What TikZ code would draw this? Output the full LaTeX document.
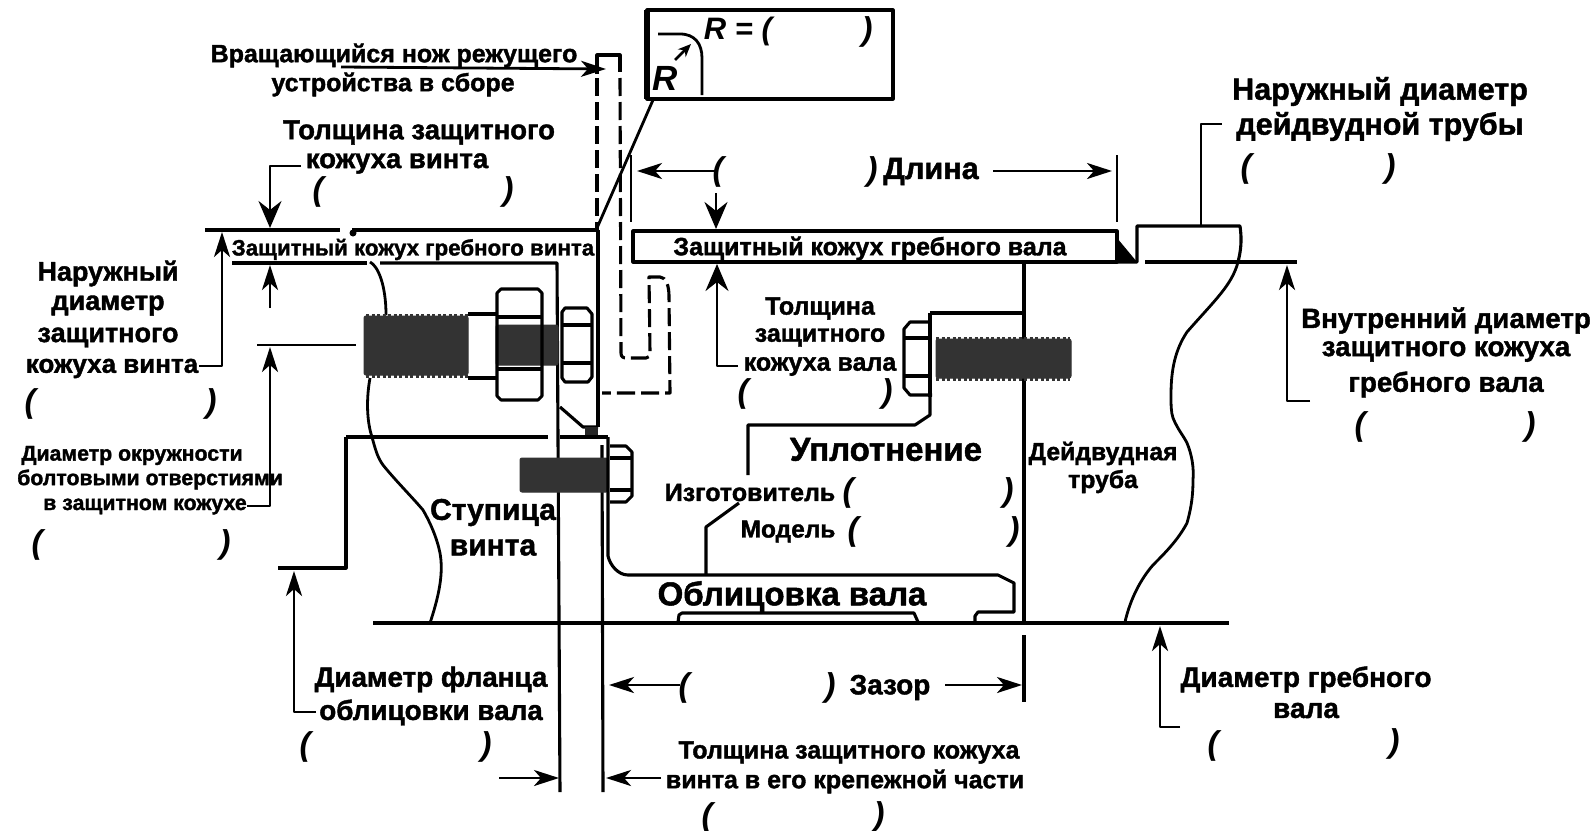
\documentclass[tikz,border=0pt]{standalone}
\usepackage{fontspec}
\setmainfont[BoldFeatures={FakeBold=1.5}]{Liberation Sans}
\usetikzlibrary{arrows.meta}
\newcommand{\fsz}[1]{\fontsize{#1bp}{#1bp}\selectfont\bfseries}
\tikzset{
  x=1bp,y=-1bp,
  every path/.style={line join=round},
  ln/.style={draw=black,line width=3.1bp},
  thin ln/.style={draw=black,line width=2.8bp},
  dsh/.style={draw=black,line width=3.1bp,dash pattern=on 18bp off 6bp},
  thread/.style={fill=black!80,draw=black!80,line width=1bp,rounded corners=2bp},
  threadedge/.style={draw=black!80,line width=3bp,dash pattern=on 3bp off 2.5bp},
  arr/.style={draw=black,line width=2.8bp,-{Stealth[length=25bp,width=16bp,inset=7bp]}},
  bigarr/.style={draw=black,line width=2.8bp,-{Stealth[length=27bp,width=23bp,inset=9bp]}},
  lab/.style={inner sep=0,yshift=-2.5bp,font=\fsz{#1}},
  par/.style={inner sep=0,yshift=-2.5bp,font=\fontsize{33bp}{33bp}\selectfont\itshape\bfseries},
}
\begin{document}
\begin{tikzpicture}
\useasboundingbox[fill=white] (0,0) rectangle (1596,830);
% --- R detail box
\draw[ln] (647,10) rectangle (893,99);
\draw[line width=5.5bp] (647,10) -- (647,99);
\draw[thin ln] (658,34) -- (680,34) .. controls (695,34) and (702,44) .. (702,58) -- (702,95);
\draw[draw=black,line width=2.6bp,-{Stealth[length=13bp,width=11bp]}] (675,60) -- (691,44);
\node[inner sep=0,yshift=-2bp,font=\fontsize{35bp}{35bp}\selectfont\itshape\bfseries] (rA) at (665,76) {R};
\node[inner sep=0,yshift=-2bp,font=\fontsize{31bp}{31bp}\selectfont\itshape\bfseries] (rB) at (738,29) {R = (};
\node[par] (rC) at (867,29) {)};
\draw[thin ln] (653,100) -- (597,228);
% --- blade (dashed)
\draw[ln] (597,74) -- (597,55) -- (620,55) -- (620,72);
\draw[dsh] (597,78) -- (597,232);
\draw[dsh] (620,78) -- (621,353) .. controls (621,357) and (623,358) .. (627,358) -- (646,358) .. controls (649,358) and (650,356) .. (650,352) -- (649,277) -- (660,277) .. controls (666,277) and (669,286) .. (669,296) -- (670,393) -- (602,393);
% --- screw cover outline
\draw[ln] (205,230) -- (340,230);
\draw[ln] (352,230) -- (597,230);
\fill (353,233) circle (3.5bp);
\draw[ln] (232,263) -- (367,263);
\draw[ln] (380,263) -- (557,263) -- (560,792);
\draw[ln] (598,230) -- (598,427);
\draw[ln] (602,445) -- (603,792);
\draw[ln] (560,407) -- (583,427) -- (598,427);
\fill[black!85] (585,427) rectangle (598,437);
\draw[ln] (346,437) -- (548,437);
\draw[ln] (560,437) -- (608,437);
\draw[ln] (278,568) -- (346,568) -- (346,437);
% --- hub curve
\draw[thin ln] (370,262) .. controls (378,266) and (386,285) .. (386,315);
\draw[thin ln] (370,378) .. controls (366,400) and (367,422) .. (372,437) .. controls (376,452) and (378,458) .. (383,465) .. controls (395,480) and (412,497) .. (423,510) .. controls (430,522) and (437,538) .. (440,553) .. controls (443,570) and (441,590) .. (430,623);
% --- large bolt
\draw[ln] (468,314) -- (498,314);
\draw[ln] (468,378) -- (498,378);
\draw[thread] (364,316) rectangle (468,375);
\draw[threadedge] (366,315) -- (468,315);
\draw[threadedge] (366,376) -- (468,376);
\draw[thread] (496,325) rectangle (558,365);
\draw[ln] (501,289) -- (538,289) -- (542,293) -- (542,396) -- (538,400) -- (501,400) -- (497,396) -- (497,293) -- cycle;
\draw[ln] (497,317) -- (542,317);
\draw[ln] (497,369) -- (542,369);
\draw[ln] (565,308) -- (587,308) -- (592,314) -- (592,377) -- (588,382) -- (565,382) -- (562,378) -- (562,312) -- cycle;
\draw[ln] (562,325) -- (592,325);
\draw[ln] (562,363) -- (592,363);
% --- lower bolt
\draw[thread] (520,458) rectangle (608,492);
\draw[ln] (610,446) -- (626,446) -- (632,452) -- (632,496) -- (626,502) -- (610,502);
\draw[ln] (610,458) -- (632,458);
\draw[ln] (610,490) -- (632,490);
% --- liner
\draw[ln] (608,437) -- (608,556) .. controls (610,565) and (618,575) .. (628,575) -- (998,575) -- (1014,583) -- (1014,612) -- (978,612) -- (975,616) -- (975,622);
\draw[ln] (678,622) -- (679,615) -- (682,613) -- (914,613) -- (918,622);
\draw[line width=3.8bp] (373,623) -- (1229,623);
% --- seal spring / leaders
\draw[ln] (706,575) -- (706,527) -- (739,503);
\draw[ln] (748,475) -- (748,425) -- (915,425) -- (930,415) -- (930,397);
% --- shaft cover
\draw[ln] (633,231) rectangle (1117,262);
\draw[ln] (1117,262) -- (1137,262) -- (1137,226) -- (1240,226) .. controls (1242,240) and (1241,250) .. (1238,262);
\fill (1117,238) -- (1137,262) -- (1117,262) -- cycle;
\draw[ln] (1145,262) -- (1297,262);
% --- stern tube curve
\draw[thin ln] (1238,262) .. controls (1232,285) and (1215,300) .. (1187,332) .. controls (1175,350) and (1171,370) .. (1171,395) .. controls (1171,405) and (1171,412) .. (1173,418) .. controls (1178,430) and (1183,435) .. (1187,443) .. controls (1192,455) and (1194,468) .. (1193,480) .. controls (1193,500) and (1190,512) .. (1187,523) .. controls (1178,540) and (1165,553) .. (1153,565) .. controls (1140,580) and (1130,600) .. (1125,622);
% --- seal bolt
\draw[ln] (1024,263) -- (1024,623);
\draw[ln] (1024,635) -- (1024,702);
\draw[ln] (930,313) -- (1024,313);
\draw[ln] (930,313) -- (930,397);
\draw[thread] (936,339) rectangle (1071,378);
\draw[threadedge] (936,338) -- (1070,338);
\draw[threadedge] (936,379) -- (1070,379);
\draw[ln] (930,322) -- (910,322) -- (904,329) -- (904,388) -- (910,395) -- (932,395);
\draw[ln] (904,338) -- (930,338);
\draw[ln] (904,376) -- (930,376);
% --- dimension ticks
\draw[thin ln] (631,155) -- (631,222);
\draw[thin ln] (1117,155) -- (1117,222);
\draw[thin ln] (257,345) -- (356,345);
\draw[thin ln] (1201,226) -- (1201,124) -- (1222,124);
% --- labels
\node[lab=25] (t1) at (394,53) {Вращающийся нож режущего};
\node[lab=25] (t2) at (393,82) {устройства в сборе};
\node[lab=27.5] (t3) at (419,130) {Толщина защитного};
\node[lab=27.5] (t4) at (397,161) {кожуха винта};
\node[par] (p3a) at (318,189) {(};
\node[par] (p3b) at (508,189) {)};
\node[lab=22.3] (t5) at (413,247) {Защитный кожух гребного винта};
\node[lab=25] (t6) at (870,246) {Защитный кожух гребного вала};
\node[lab=27] (l1) at (108,271) {Наружный};
\node[lab=27] (l2) at (108,303) {диаметр};
\node[lab=27] (l3) at (108,335) {защитного};
\node[lab=26] (l4) at (112,366) {кожуха винта};
\node[par] (l5a) at (30,401) {(};
\node[par] (l5b) at (211,401) {)};
\node[lab=21.3] (d1) at (132,453) {Диаметр окружности};
\node[lab=21.3] (d2) at (150,477) {болтовыми отверстиями};
\node[lab=21.3] (d3) at (145,504) {в защитном кожухе};
\node[par] (d4a) at (37,542) {(};
\node[par] (d4b) at (225,542) {)};
\node[lab=30] (c1) at (493,510) {Ступица};
\node[lab=30] (c2) at (493,545) {винта};
\node[lab=33] (u1) at (886,447) {Уплотнение};
\node[lab=33] (o1) at (792,594) {Облицовка вала};
\node[lab=25] (m1) at (750,490) {Изготовитель};
\node[par] (m1a) at (848,490) {(};
\node[par] (m1b) at (1008,490) {)};
\node[lab=24.5] (m2) at (788,529) {Модель};
\node[par] (m2a) at (853,529) {(};
\node[par] (m2b) at (1014,529) {)};
\node[lab=24.7] (k1) at (1103,451) {Дейдвудная};
\node[lab=24.7] (k2) at (1103,479) {труба};
\node[lab=25] (v1) at (820,306) {Толщина};
\node[lab=25] (v2) at (820,335) {защитного};
\node[lab=25] (v3) at (820,364) {кожуха вала};
\node[par] (v4a) at (743,391) {(};
\node[par] (v4b) at (887,391) {)};
\node[lab=30.5] (a1) at (1380,89) {Наружный диаметр};
\node[lab=30.5] (a2) at (1380,124) {дейдвудной трубы};
\node[par] (a3a) at (1246,166) {(};
\node[par] (a3b) at (1390,166) {)};
\node[lab=27.7] (b1) at (1446,318) {Внутренний диаметр};
\node[lab=27.7] (b2) at (1446,349) {защитного кожуха};
\node[lab=27.7] (b3) at (1446,382) {гребного вала};
\node[par] (b4a) at (1360,424) {(};
\node[par] (b4b) at (1530,424) {)};
\node[lab=28] (e1) at (1306,677) {Диаметр гребного};
\node[lab=28] (e2) at (1306,708) {вала};
\node[par] (e3a) at (1213,743) {(};
\node[par] (e3b) at (1394,741) {)};
\node[lab=27.8] (f1) at (431,677) {Диаметр фланца};
\node[lab=27.8] (f2) at (431,710) {облицовки вала};
\node[par] (f3a) at (305,744) {(};
\node[par] (f3b) at (486,744) {)};
\node[par] (z1a) at (684,685) {(};
\node[par] (z1b) at (830,685) {)};
\node[lab=27.9] (z2) at (890,685) {Зазор};
\node[lab=25] (g1) at (849,750) {Толщина защитного кожуха};
\node[lab=25] (g2) at (845,779) {винта в его крепежной части};
\node[par] (g3a) at (707,815) {(};
\node[par] (g3b) at (879,814) {)};
\node[par] (h1a) at (718,169) {(};
\node[par] (h1b) at (872,169) {)};
\node[lab=30.6] (h2) at (931,169) {Длина};
% --- arrows
\draw[arr] (341,67) -- (606,69);
\draw[bigarr] (301,166) -- (270,166) -- (270,228);
\draw[arr] (199,366) -- (222,366) -- (222,232);
\draw[arr] (270,308) -- (270,265);
\draw[arr] (247,506) -- (270,506) -- (270,347);
\draw[arr] (316,712) -- (294,712) -- (294,571);
\draw[arr] (1310,401) -- (1287,401) -- (1287,265);
\draw[arr] (1180,727) -- (1160,727) -- (1160,626);
\draw[arr] (716,171) -- (637,171);
\draw[arr] (993,171) -- (1112,171);
\draw[bigarr] (716,193) -- (716,229);
\draw[bigarr] (738,366) -- (717,366) -- (717,264);
\draw[arr] (680,685) -- (609,685);
\draw[arr] (945,685) -- (1022,685);
\draw[arr] (499,778) -- (559,778);
\draw[arr] (661,778) -- (606,778);
\end{tikzpicture}
\end{document}
